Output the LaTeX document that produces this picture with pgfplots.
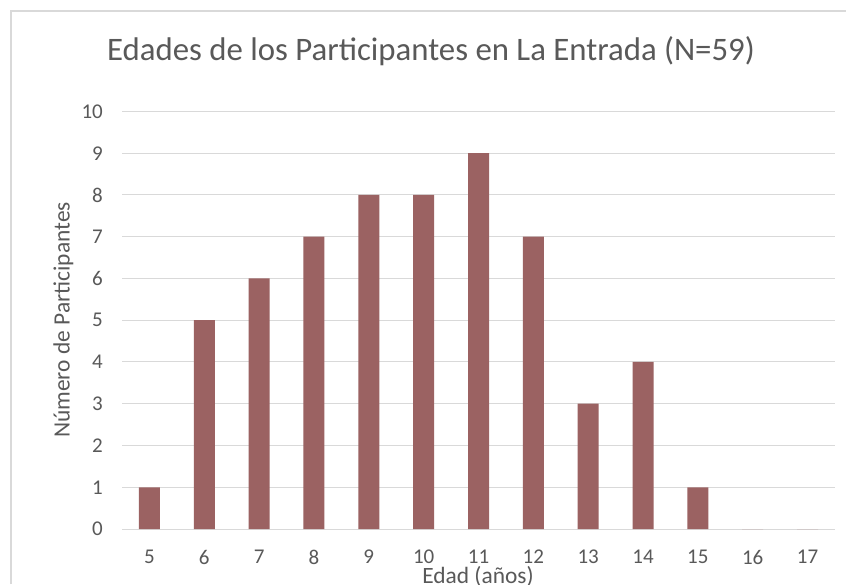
\documentclass[border=0pt]{standalone}
\usepackage{fontspec}
\setmainfont{Carlito}
\usepackage{pgfplots}
\pgfplotsset{compat=1.18}
\definecolor{txt}{HTML}{595959}
\definecolor{gridc}{HTML}{D9D9D9}
\definecolor{barc}{HTML}{9B6262}
\begin{document}
\begin{tikzpicture}[x=1pt,y=1pt]
\path[use as bounding box] (0,0) rectangle (846,584);
\fill[white] (0,0) rectangle (846,584);
\draw[gridc, line width=2pt] (11,0) -- (11,573) -- (846,573);
\begin{axis}[
  at={(122pt,55pt)}, anchor=south west,
  width=713pt, height=417.5pt, scale only axis,
  xmin=4.5, xmax=17.5, ymin=0, ymax=10,
  xtick={5,...,17}, ytick={0,...,10},
  ymajorgrids, grid style={gridc, line width=1pt},
  axis line style={draw=none}, tick style={draw=none},
  /pgf/number format/assume math mode=true,
  ticklabel style={font=\fontsize{21}{25}\selectfont, text=txt, inner sep=0pt},
  yticklabel style={anchor=east, xshift=-19pt},
  xticklabel style={anchor=center, yshift=-28pt},
  clip=false,
]
\addplot[ybar, bar width=21pt, fill=barc, draw=none] coordinates {
(5,1) (6,5) (7,6) (8,7) (9,8) (10,8) (11,9) (12,7) (13,3) (14,4) (15,1) (16,0) (17,0)
};
\end{axis}
\node[anchor=base, text=txt, font=\fontsize{32.8}{40}\selectfont] at (431,523) {Edades de los Participantes en La Entrada (N=59)};
\node[anchor=base, rotate=90, text=txt, font=\fontsize{23.4}{28}\selectfont] at (69.5,264) {Número de Participantes};
\node[anchor=base, text=txt, font=\fontsize{23.4}{28}\selectfont] at (478,1) {Edad (años)};
\end{tikzpicture}
\end{document}
